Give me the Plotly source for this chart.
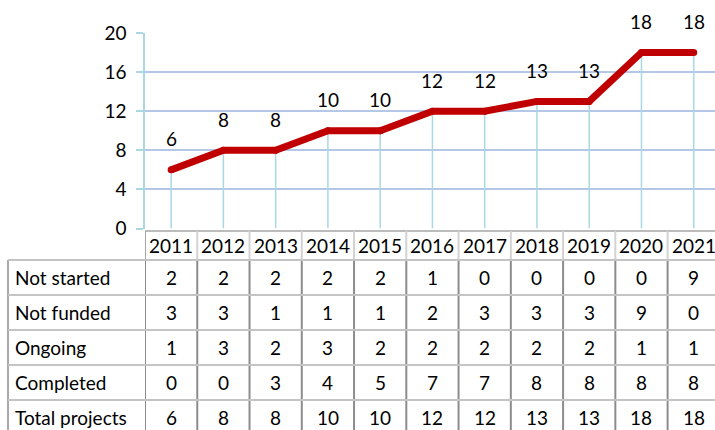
import plotly.graph_objects as go

years = ["2011", "2012", "2013", "2014", "2015", "2016", "2017", "2018", "2019", "2020", "2021"]
not_started = [2, 2, 2, 2, 2, 1, 0, 0, 0, 0, 9]
not_funded = [3, 3, 1, 1, 1, 2, 3, 3, 3, 9, 0]
ongoing = [1, 3, 2, 3, 2, 2, 2, 2, 2, 1, 1]
completed = [0, 0, 3, 4, 5, 7, 7, 8, 8, 8, 8]
total_projects = [6, 8, 8, 10, 10, 12, 12, 13, 13, 18, 18]

row_names = ["Not started", "Not funded", "Ongoing", "Completed", "Total projects"]
rows = [not_started, not_funded, ongoing, completed, total_projects]

W, H = 715, 430
LEFT, TOP = 145, 33
AXIS_Y = 228.5
FONT = "Lato"
FS = 19


def py(p):
    # pixel row -> paper y
    return (H - p) / (H - TOP)


def px(p):
    # pixel column -> paper x
    return (p - LEFT) / (W - LEFT)


fig = go.Figure()

# drop lines from the axis up to each point
drop_x, drop_y = [], []
for i, v in enumerate(total_projects):
    drop_x += [i, i, None]
    drop_y += [0, v, None]
fig.add_trace(go.Scatter(x=drop_x, y=drop_y, mode="lines",
                         line=dict(color="#a9d8e4", width=1.5), hoverinfo="skip"))
fig.add_trace(go.Scatter(x=list(range(len(years))), y=total_projects, mode="lines+markers",
                         line=dict(color="#c00000", width=7),
                         marker=dict(size=7, color="#c00000")))

annotations = []
for i, v in enumerate(total_projects):
    annotations.append(dict(x=i, y=v, text=str(v), showarrow=False, yshift=31,
                            font=dict(size=FS, color="black", family=FONT)))

# data table under the chart
header_top, header_bot = 231, 260
row_edges = [260, 295, 330, 365, 400, 435]
label_left = 8

shapes = []
shapes.append(dict(type="line", xref="paper", yref="paper", x0=0, x1=1.01,
                   y0=py(header_top), y1=py(header_top), line=dict(color="#a6a6a6", width=1.5)))
for k in range(len(years) + 1):
    shapes.append(dict(type="line", xref="x", yref="paper", x0=k - 0.5, x1=k - 0.5,
                       y0=py(header_top), y1=py(header_bot),
                       line=dict(color="#a6a6a6" if k == 0 else "#d2d2d2", width=2)))
    shapes.append(dict(type="line", xref="x", yref="paper", x0=k - 0.5, x1=k - 0.5,
                       y0=py(header_bot), y1=py(row_edges[-1]),
                       line=dict(color="#8c8c8c", width=2)))
shapes.append(dict(type="line", xref="paper", yref="paper", x0=px(label_left), x1=px(label_left),
                   y0=py(row_edges[0]), y1=py(row_edges[-1]), line=dict(color="#8c8c8c", width=1.5)))
for e in row_edges[:-1]:
    shapes.append(dict(type="line", xref="paper", yref="paper", x0=px(label_left), x1=1.01,
                       y0=py(e), y1=py(e), line=dict(color="#c4c4c4", width=2)))

for i, yr in enumerate(years):
    annotations.append(dict(x=i, xref="x", y=py((header_top + header_bot) / 2), yref="paper",
                            text=yr, showarrow=False, yanchor="middle",
                            font=dict(size=FS, color="black", family=FONT)))
for r, (name, vals) in enumerate(zip(row_names, rows)):
    yc = py((row_edges[r] + row_edges[r + 1]) / 2)
    annotations.append(dict(x=px(13), xref="paper", y=yc, yref="paper", text=name,
                            showarrow=False, xanchor="left", yanchor="middle",
                            font=dict(size=FS, color="black", family=FONT)))
    for i, v in enumerate(vals):
        annotations.append(dict(x=i, xref="x", y=yc, yref="paper", text=str(v),
                                showarrow=False, yanchor="middle",
                                font=dict(size=FS, color="black", family=FONT)))

fig.update_layout(
    width=W, height=H,
    margin=dict(l=LEFT, r=0, t=TOP, b=0, autoexpand=False),
    paper_bgcolor="white", plot_bgcolor="white",
    showlegend=False,
    font=dict(family=FONT, size=FS, color="black"),
    shapes=shapes,
    annotations=annotations,
)
fig.update_xaxes(range=[-0.5, 10.407], showgrid=False, showline=False,
                 showticklabels=False, ticks="", zeroline=False)
fig.update_yaxes(range=[0, 20], domain=[(H - AXIS_Y) / (H - TOP), 1], tickvals=[0, 4, 8, 12, 16, 20],
                 gridcolor="#b4c7e7", gridwidth=1.5, zeroline=False,
                 showline=True, linecolor="#a9d8e4", linewidth=1.5,
                 ticks="outside", ticklen=7, tickcolor="#a9d8e4", tickwidth=1.5,
                 ticklabelstandoff=6, tickfont=dict(size=FS, family=FONT))

fig.write_html("out.html", config={"displayModeBar": False},
               post_script="document.body.style.margin='0';")
